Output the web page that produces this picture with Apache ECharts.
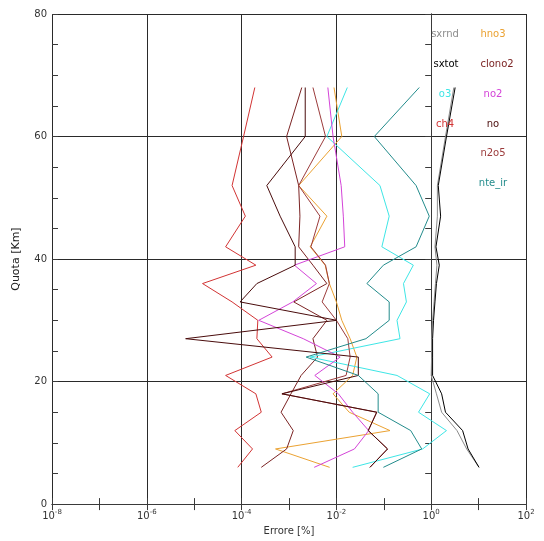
<!DOCTYPE html>
<html><head><meta charset="utf-8">
<script src="https://cdn.jsdelivr.net/npm/echarts@6/dist/echarts.min.js"></script>
<style>html,body{margin:0;padding:0;background:#fff}#c{width:544px;height:541px}</style>
</head><body><div id="c"></div>
<script>
// Altitude levels [km]
const altitudes = [6, 9, 12, 15, 18, 21, 24, 27, 30, 33, 36, 39, 42, 47, 52, 60, 68];
// Errors [%] per altitude level
const sxrnd  = [10.2, 5.6, 3.5, 1.66, 1.29, 1.0, 1.02, 1.02, 1.07, 1.15, 1.23, 1.32, 1.2, 1.35, 1.35, 2.0, 3.0];
const sxtot  = [10.2, 6.0, 4.6, 2.0, 1.66, 1.07, 1.07, 1.07, 1.12, 1.2, 1.29, 1.48, 1.26, 1.58, 1.41, 2.1, 3.2];
const o3     = [0.022, 0.66, 2.1, 0.54, 0.93, 0.19, 0.0028, 0.22, 0.19, 0.30, 0.26, 0.42, 0.091, 0.13, 0.083, 0.0063, 0.017];
const ch4    = [8.3e-5, 1.7e-4, 7.2e-5, 2.6e-4, 2.0e-4, 4.6e-5, 4.4e-4, 2.1e-4, 2.2e-4, 6.3e-5, 1.5e-5, 2.0e-4, 4.6e-5, 1.2e-4, 6.3e-5, 1.1e-4, 1.9e-4];
const hno3   = [0.0072, 0.00052, 0.135, 0.0186, 0.0085, 0.022, 0.027, 0.0195, 0.013, 0.01, 0.0071, 0.0058, 0.0028, 0.0063, 0.0016, 0.013, 0.0089];
const clono2 = [2.6e-4, 8.9e-4, 1.23e-3, 6.8e-4, 1.1e-3, 1.8e-3, 4.0e-3, 3.2e-3, 6.3e-3, 1.26e-3, 6.3e-3, 3.2e-3, 1.6e-3, 1.7e-3, 1.6e-3, 8.9e-4, 1.86e-3];
const no2    = [0.0034, 0.024, 0.048, 0.022, 0.011, 0.0035, 0.012, 0.002, 0.00023, 0.0012, 0.0038, 0.0013, 0.015, 0.014, 0.0126, 0.0085, 0.0066];
const no     = [0.051, 0.12, 0.047, 0.071, 0.00071, 0.029, 0.029, 6.6e-6, 0.0102, 9.3e-5, 2.1e-4, 0.00135, 0.00135, 0.00065, 0.00034, 0.0022, 0.0022];
const n2o5   = [0.051, 0.12, 0.047, 0.071, 0.00071, 0.016, 0.0195, 0.0174, 0.01, 0.005, 0.0071, 0.0059, 0.0029, 0.0045, 0.0016, 0.0059, 0.0032];
const nte_ir = [0.098, 0.63, 0.37, 0.076, 0.076, 0.029, 0.0023, 0.042, 0.13, 0.13, 0.044, 0.098, 0.48, 0.91, 0.48, 0.063, 0.56];
const xTickExps = [-8, -6, -4, -2, 0, 2];
const yTicks = [0, 20, 40, 60, 80];

const seriesDefs = [
  {name: 'sxrnd', data: sxrnd, color: '#8c8c8c'},
  {name: 'hno3', data: hno3, color: '#eba232'},
  {name: 'sxtot', data: sxtot, color: '#000000'},
  {name: 'clono2', data: clono2, color: '#7c2424'},
  {name: 'o3', data: o3, color: '#3ee6e6'},
  {name: 'no2', data: no2, color: '#d444d8'},
  {name: 'ch4', data: ch4, color: '#d23434'},
  {name: 'n2o5', data: n2o5, color: '#9c3c3c'},
  {name: 'no', data: no, color: '#4a0c0c'},
  {name: 'nte_ir', data: nte_ir, color: '#238c8c'}
];
const legendPos = {
  sxrnd: [445, 34], hno3: [493, 34], sxtot: [446, 64], clono2: [497, 64],
  o3: [445, 94], no2: [493, 94], ch4: [445, 124], no: [493, 124],
  n2o5: [493, 153], nte_ir: [493, 183]
};

const chart = echarts.init(document.getElementById('c'), null, {renderer: 'canvas'});
const frameColor = '#3a3a3a';
const font = 'DejaVu Sans, sans-serif';

const option = {
  animation: false,
  backgroundColor: '#fff',
  grid: {left: 52, right: 18, top: 14, bottom: 33},
  xAxis: [
    {
      type: 'log', logBase: 10, min: 1e-8, max: 1e2, interval: 2,
      name: 'Errore [%]', nameLocation: 'middle', nameGap: 18,
      nameTextStyle: {fontFamily: font, fontSize: 10, color: '#333'},
      axisLine: {show: true, lineStyle: {color: frameColor, width: 1}},
      axisTick: {show: false},
      splitLine: {show: true, lineStyle: {color: '#2a2a2a', width: 1}},
      axisLabel: {
        margin: 5,
        formatter: function (v) {
          const e = Math.round(Math.log10(v));
          return '{b|10}{s|' + e + '}';
        },
        rich: {
          b: {fontFamily: font, fontSize: 10, color: '#333'},
          s: {fontFamily: font, fontSize: 7, color: '#333', padding: [0, 0, 7, 0]}
        }
      }
    },
    {
      type: 'value', min: -8, max: 2, interval: 1, position: 'bottom',
      axisLine: {show: false}, axisLabel: {show: false}, splitLine: {show: false},
      axisTick: {show: true, inside: true, length: 6, lineStyle: {color: frameColor}}
    },
    {
      type: 'value', min: -8, max: 2, interval: 1, position: 'top',
      axisLine: {show: true, lineStyle: {color: frameColor}}, axisLabel: {show: false}, splitLine: {show: false},
      axisTick: {show: true, inside: true, length: 6, lineStyle: {color: frameColor}}
    }
  ],
  yAxis: [
    {
      type: 'value', min: 0, max: 80, interval: 20,
      name: 'Quota [Km]', nameLocation: 'middle', nameGap: 30, nameRotate: 90,
      nameTextStyle: {fontFamily: font, fontSize: 11, color: '#222'},
      axisLine: {show: true, lineStyle: {color: frameColor}},
      axisTick: {show: false},
      splitLine: {show: true, lineStyle: {color: '#2a2a2a', width: 1}},
      axisLabel: {fontFamily: font, fontSize: 10, color: '#333', margin: 5}
    },
    {
      type: 'value', min: 0, max: 80, interval: 5, position: 'right',
      axisLine: {show: true, lineStyle: {color: frameColor}},
      axisLabel: {show: false}, splitLine: {show: false},
      axisTick: {show: true, inside: true, length: 6, lineStyle: {color: frameColor}}
    },
    {
      type: 'value', min: 0, max: 80, interval: 5, position: 'left',
      axisLine: {show: false}, axisLabel: {show: false}, splitLine: {show: false},
      axisTick: {show: true, inside: true, length: 6, lineStyle: {color: frameColor}}
    }
  ],
  series: seriesDefs.map(s => ({
    name: s.name, type: 'line', xAxisIndex: 0, yAxisIndex: 0,
    data: s.data.map((v, i) => [v, altitudes[i]]),
    showSymbol: false, symbol: 'none', smooth: false,
    lineStyle: {color: s.color, width: 1},
    itemStyle: {color: s.color},
    z: 3
  })),
  graphic: seriesDefs.map(s => ({
    type: 'text', x: legendPos[s.name][0], y: legendPos[s.name][1],
    style: {text: s.name, fill: s.color, font: '10px ' + font, textAlign: 'center', textVerticalAlign: 'middle'},
    z: 10
  }))
};
chart.setOption(option);
</script>
</body></html>
